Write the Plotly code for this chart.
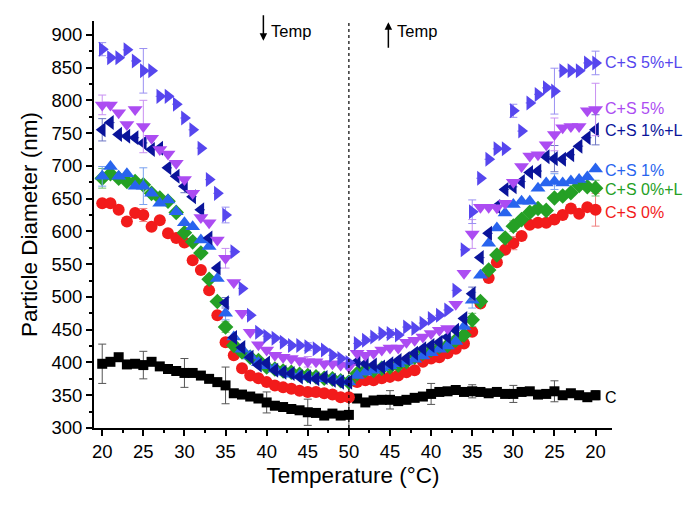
import plotly.graph_objects as go

# Measurement sequence: heating 20 -> 50 °C, then cooling 49 -> 20 °C
temps_heat = list(range(20, 51))
temps_cool = list(range(49, 19, -1))
temps = temps_heat + temps_cool
seq = list(range(len(temps)))  # position along the measurement sequence

tick_pos = [0, 5, 10, 15, 20, 25, 30, 35, 40, 45, 50, 55, 60]
tick_labels = ["20", "25", "30", "35", "40", "45", "50", "45", "40", "35", "30", "25", "20"]

c_vals = [398, 401, 408, 397, 398, 396, 401, 394, 390, 387, 384, 384, 380, 375, 370, 365,
          353, 351, 348, 345, 339, 334, 332, 329, 327, 324, 323, 319, 322, 319, 320,
          345, 339, 342, 343, 343, 341, 343, 346, 348, 352, 355, 356, 358, 355, 356,
          355, 353, 355, 352, 352, 355, 356, 351, 352, 356, 350, 353, 350, 347, 350]
cs0_vals = [643, 643, 633, 615, 628, 625, 607, 617, 597, 590, 583, 556, 541, 510, 472, 431,
            411, 391, 380, 376, 370, 365, 362, 360, 357, 355, 355, 353, 351, 347, 347,
            370, 373, 373, 376, 378, 380, 385, 388, 401, 406, 408, 414, 421, 429, 447,
            490, 529, 553, 572, 582, 593, 610, 613, 613, 618, 625, 635, 627, 637, 633]
cs0l_vals = [681, 688, 681, 676, 676, 671, 658, 651, 646, 629, 598, 584, 567, 527, 493, 454,
             426, 416, 408, 403, 393, 390, 387, 385, 382, 380, 378, 376, 375, 372, 370,
             383, 388, 388, 391, 393, 396, 401, 408, 414, 419, 424, 426, 434, 442, 465,
             493, 541, 564, 590, 608, 618, 629, 635, 632, 651, 654, 659, 670, 668, 666]
cs1_vals = [684, 699, 684, 688, 669, 669, 658, 643, 648, 630, 613, 607, 587, 577, 528, 475,
            439, 420, 410, 400, 395, 390, 385, 382, 380, 378, 376, 375, 374, 372, 370,
            380, 385, 388, 392, 395, 398, 402, 405, 410, 415, 420, 425, 432, 455, 495,
            533, 582, 605, 628, 641, 646, 646, 666, 674, 676, 674, 677, 679, 683, 695]
cs1l_vals = [755, 766, 748, 745, 743, 735, 725, 727, 697, 684, 669, 653, 633, 590, 544, 491,
             438, 423, 408, 396, 399, 388, 385, 383, 378, 378, 375, 377, 373, 370, 370,
             401, 398, 396, 393, 398, 403, 406, 414, 421, 426, 431, 439, 449, 467, 505,
             560, 597, 638, 664, 668, 676, 690, 692, 714, 711, 710, 717, 730, 743, 755]
cs5_vals = [793, 793, 781, 763, 786, 760, 742, 725, 718, 704, 679, 658, 621, 613, 587, 559,
            522, 475, 446, 427, 419, 411, 408, 406, 403, 401, 401, 398, 398, 396, 393,
            414, 411, 414, 419, 422, 422, 431, 434, 439, 444, 449, 452, 489, 536, 596,
            637, 637, 636, 643, 675, 699, 715, 717, 732, 748, 758, 760, 760, 784, 786]
cs5l_vals = [878, 865, 865, 877, 860, 845, 845, 806, 806, 794, 773, 755, 727, 679, 658, 625,
             569, 513, 472, 446, 440, 437, 431, 426, 426, 424, 421, 419, 411, 406, 400,
             429, 434, 439, 444, 444, 442, 454, 452, 460, 467, 472, 480, 510, 572, 630,
             681, 710, 726, 726, 784, 753, 796, 809, 819, 814, 845, 845, 845, 857, 857]

# Error bars, shown every 5 °C step (None = no bar)
c_err5 = [30, 21, 22, 28, 16, 20, 28, 14, 16, 10, 13, 16, 7]
cs0_err5 = [None, 10, None, None, None, None, None, None, None, None, 10, None, 25]
cs0l_err5 = [15, None, None, 8, None, None, None, None, None, 10, 8, None, 12]
cs1_err5 = [15, 28, None, 10, None, None, None, None, None, 12, None, 12, None]
cs1l_err5 = [17, None, 10, 8, None, None, None, None, None, 10, None, 20, 23]
cs5_err5 = [15, 40, None, 15, None, 8, None, None, None, 22, None, 25, 40]
cs5l_err5 = [10, 34, None, 12, None, 6, None, 6, None, 18, 10, 35, 18]


def expand(err5):
    out = [None] * len(seq)
    for k, e in enumerate(err5):
        out[k * 5] = e
    return out


series = [
    ("C", c_vals, c_err5, "square", 10, "#000000", "#555555"),
    ("C+S 0%", cs0_vals, cs0_err5, "circle", 12, "#F21B1B", "#F08080"),
    ("C+S 0%+L", cs0l_vals, cs0l_err5, "diamond", 12, "#25A025", "#70C070"),
    ("C+S 1%", cs1_vals, cs1_err5, "triangle-up", 13, "#2864EE", "#7AA2F0"),
    ("C+S 1%+L", cs1l_vals, cs1l_err5, "triangle-left", 13, "#0A149A", "#6C74C4"),
    ("C+S 5%", cs5_vals, cs5_err5, "triangle-down", 13, "#AC4CF2", "#C890F2"),
    ("C+S 5%+L", cs5l_vals, cs5l_err5, "triangle-right", 13, "#5646EE", "#9A90F2"),
]

label_y = {"C": 347, "C+S 0%": 629, "C+S 0%+L": 664, "C+S 1%": 693,
           "C+S 1%+L": 754, "C+S 5%": 788, "C+S 5%+L": 857}

FONT = "Liberation Sans, Arial"

fig = go.Figure()
for name, vals, err5, sym, size, col, ecol in series:
    fig.add_trace(go.Scatter(
        x=seq, y=vals, mode="markers", name=name,
        marker=dict(symbol=sym, size=size, color=col, line=dict(width=0)),
        error_y=dict(type="data", array=expand(err5), visible=True,
                     color=ecol, thickness=1, width=4),
        customdata=temps, showlegend=False,
    ))
    fig.add_annotation(x=60.9, y=label_y[name], text=name, showarrow=False,
                       xanchor="left", yanchor="middle",
                       font=dict(size=16, color=col, family=FONT))

fig.add_shape(type="line", x0=30, x1=30, y0=300, y1=921, xref="x", yref="y",
              line=dict(color="black", width=1.2, dash="dot"))

# temperature direction markers
fig.add_annotation(x=19.6, y=891, ax=0, ay=-27, xref="x", yref="y", text="",
                   showarrow=True, arrowhead=2, arrowsize=1, arrowwidth=1.5, arrowcolor="black")
fig.add_annotation(x=23.0, y=906, text="Temp", showarrow=False,
                   font=dict(size=16.5, color="black", family=FONT))
fig.add_annotation(x=34.8, y=919, ax=0, ay=27, xref="x", yref="y", text="",
                   showarrow=True, arrowhead=2, arrowsize=1, arrowwidth=1.5, arrowcolor="black")
fig.add_annotation(x=38.3, y=906, text="Temp", showarrow=False,
                   font=dict(size=16.5, color="black", family=FONT))

# margins compensate for the 8px page body offset
fig.update_layout(
    width=700, height=507,
    margin=dict(l=86, r=96, t=13, b=87),
    paper_bgcolor="white", plot_bgcolor="white",
    font=dict(family=FONT, color="black"),
)
fig.update_xaxes(
    range=[-1, 62], tickmode="array", tickvals=tick_pos, ticktext=tick_labels,
    showline=True, linecolor="black", linewidth=2, mirror=False,
    ticks="outside", ticklen=6, tickwidth=1.5, tickcolor="black",
    minor=dict(dtick=2.5, tick0=0, ticks="outside", ticklen=3, tickcolor="black", tickwidth=1.5),
    showgrid=False, zeroline=False,
    tickfont=dict(size=18.5),
    title=dict(text="Temperature (°C)", font=dict(size=22.5), standoff=6),
)
fig.update_yaxes(
    range=[300, 921], tickvals=list(range(300, 901, 50)),
    showline=True, linecolor="black", linewidth=2, mirror=False,
    ticks="outside", ticklen=6, tickwidth=1.5, tickcolor="black",
    minor=dict(dtick=25, tick0=300, ticks="outside", ticklen=3, tickcolor="black", tickwidth=1.5),
    showgrid=False, zeroline=False,
    tickfont=dict(size=18.5),
    title=dict(text="Particle Diameter (nm)", font=dict(size=22.5), standoff=8),
)

fig.write_html("out.html")
